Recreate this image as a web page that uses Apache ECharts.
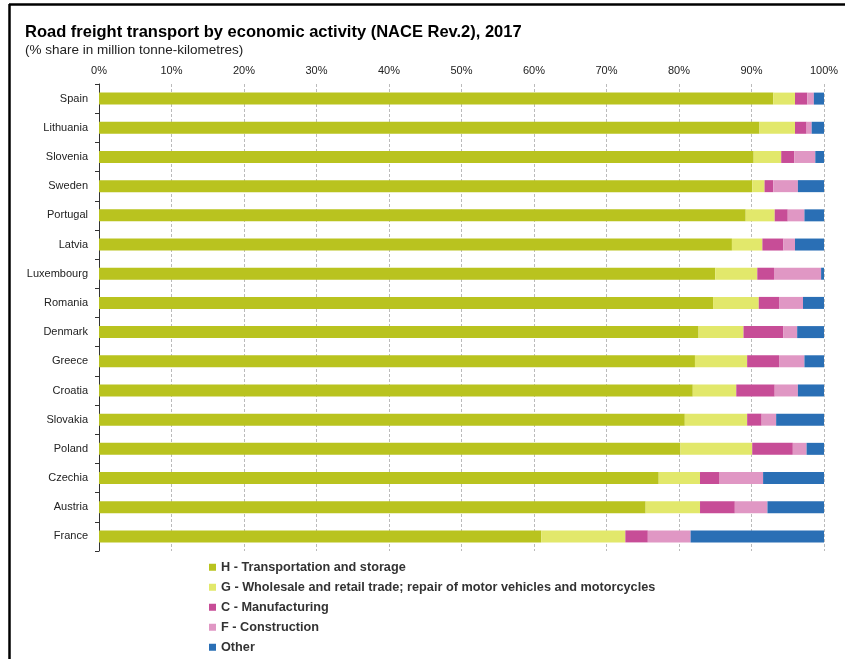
<!DOCTYPE html>
<html>
<head>
<meta charset="utf-8">
<script src="https://cdn.jsdelivr.net/npm/echarts@6/dist/echarts.min.js"></script>
<style>
html,body{margin:0;padding:0;background:#fff;}
#c{width:845px;height:659px;}
</style>
</head>
<body>
<div id="c"></div>
<script>
const countries = ["Spain","Lithuania","Slovenia","Sweden","Portugal","Latvia","Luxembourg","Romania","Denmark","Greece","Croatia","Slovakia","Poland","Czechia","Austria","France"];
const seriesNames = ["H - Transportation and storage","G - Wholesale and retail trade; repair of motor vehicles and motorcycles","C - Manufacturing","F - Construction","Other"];
const transport =    [93.0,91.1,90.3,90.1,89.2,87.3,85.0,84.7,82.7,82.2,81.9,80.8,80.2,77.2,75.4,61.0];
const wholesale =    [3.0,4.9,3.8,1.7,4.0,4.2,5.8,6.3,6.2,7.2,6.0,8.6,9.9,5.7,7.5,11.6];
const manufacturing =[1.7,1.6,1.8,1.2,1.8,2.9,2.3,2.8,5.5,4.4,5.3,2.0,5.6,2.7,4.8,3.1];
const construction = [0.9,0.7,2.9,3.4,2.3,1.6,6.5,3.3,1.9,3.5,3.2,2.0,1.9,6.0,4.5,5.9];
const other =        [1.4,1.7,1.2,3.6,2.7,4.0,0.4,2.9,3.7,2.7,3.6,6.6,2.4,8.4,7.8,18.4];
const tickLabels = ["0%","10%","20%","30%","40%","50%","60%","70%","80%","90%","100%"];

const colors = ["#B9C31F","#E2E86B","#C74D97","#E097C4","#2A6FB5"];
const values = [transport, wholesale, manufacturing, construction, other];

const chart = echarts.init(document.getElementById('c'), null, {renderer:'canvas'});
chart.setOption({
  animation:false,
  backgroundColor:'#fff',
  color: colors,
  title:[
    {text:'Road freight transport by economic activity (NACE Rev.2), 2017', left:20, top:19,
     textStyle:{fontFamily:'Liberation Sans, Arial', fontSize:16.5, fontWeight:'bold', color:'#000'}},
    {text:'(% share in million tonne-kilometres)', left:20, top:38,
     textStyle:{fontFamily:'Liberation Sans, Arial', fontSize:13.5, fontWeight:'normal', color:'#222'}}
  ],
  graphic:[
    {type:'line', shape:{x1:9, y1:4.5, x2:845, y2:4.5}, style:{stroke:'#000', lineWidth:2.5}},
    {type:'line', shape:{x1:9.5, y1:4, x2:9.5, y2:659}, style:{stroke:'#000', lineWidth:2.5}}
  ],
  legend:{
    orient:'vertical', left:204, top:555, height:130, itemGap:5.5,
    icon:'rect', itemWidth:7, itemHeight:7,
    textStyle:{fontFamily:'Liberation Sans, Arial', fontSize:12.7, fontWeight:'bold', color:'#333', lineHeight:14.5},
    data: seriesNames
  },
  grid:{left:99, right:21, top:84, bottom:108, containLabel:false},
  xAxis:{
    type:'value', position:'top', min:0, max:100, interval:10,
    axisLine:{show:false}, axisTick:{show:false},
    axisLabel:{formatter:(v)=>tickLabels[Math.round(v/10)], fontFamily:'Liberation Sans, Arial', fontSize:11, color:'#222', margin:8},
    splitLine:{show:true, lineStyle:{color:'#bbb', type:[3,2], width:1}}
  },
  yAxis:{
    type:'category', data:countries, inverse:true,
    axisLine:{show:true, lineStyle:{color:'#333', width:1}},
    axisTick:{show:true, length:4, lineStyle:{color:'#333'}},
    axisLabel:{fontFamily:'Liberation Sans, Arial', fontSize:11, color:'#222', margin:11}
  },
  series: seriesNames.map((n,i)=>({
    name:n, type:'bar', stack:'total', data:values[i], barWidth:12,
    itemStyle:{color:colors[i]}
  }))
});
</script>
</body>
</html>
